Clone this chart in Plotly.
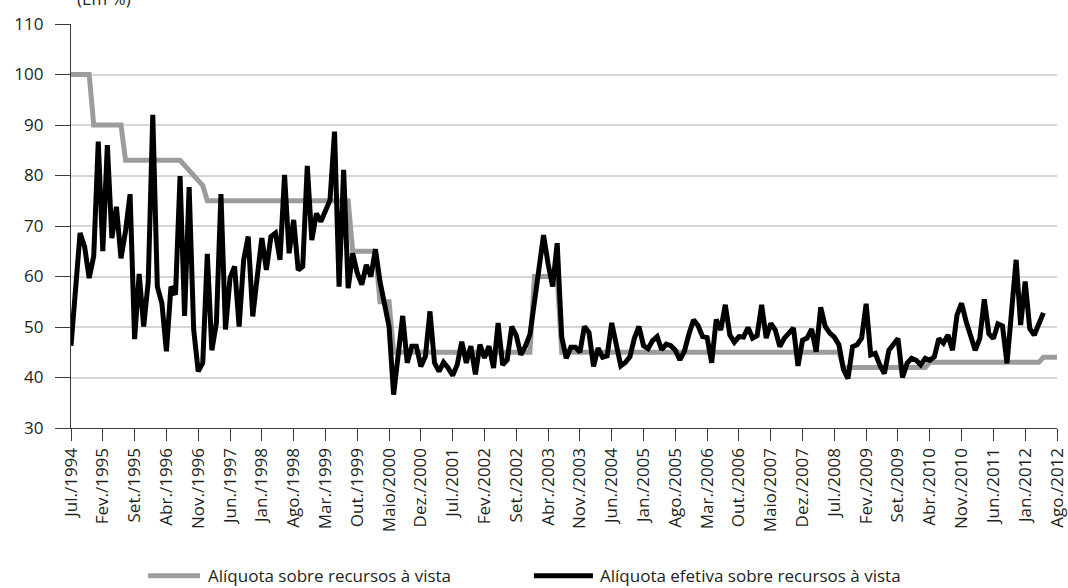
import plotly.graph_objects as go

tick_labels = ["Jul./1994", "Fev./1995", "Set./1995", "Abr./1996", "Nov./1996", "Jun./1997",
               "Jan./1998", "Ago./1998", "Mar./1999", "Out./1999", "Maio/2000", "Dez./2000",
               "Jul./2001", "Fev./2002", "Set./2002", "Abr./2003", "Nov./2003", "Jun./2004",
               "Jan./2005", "Ago./2005", "Mar./2006", "Out./2006", "Maio/2007", "Dez./2007",
               "Jul./2008", "Fev./2009", "Set./2009", "Abr./2010", "Nov./2010", "Jun./2011",
               "Jan./2012", "Ago./2012"]

# Alíquota sobre recursos à vista (monthly, Jul/1994 - Ago/2012)
aliquota = [
    100, 100, 100, 100, 100,
    90, 90, 90, 90, 90, 90, 90,
    83, 83, 83, 83, 83, 83, 83, 83, 83, 83, 83, 83, 83,
    82, 81, 80, 79, 78,
    75, 75, 75, 75, 75, 75, 75, 75, 75, 75, 75, 75, 75, 75, 75, 75,
    75, 75, 75, 75, 75, 75, 75, 75, 75, 75, 75, 75, 75, 75, 75, 75,
    65, 65, 65, 65, 65, 65,
    55, 55, 55,
    45, 45, 45, 45, 45, 45, 45, 45, 45, 45, 45, 45, 45, 45, 45, 45,
    45, 45, 45, 45, 45, 45, 45, 45, 45, 45, 45, 45, 45, 45, 45,
    60, 60, 60, 60, 60, 60,
    45, 45, 45, 45, 45, 45, 45, 45, 45, 45, 45, 45, 45, 45, 45, 45,
    45, 45, 45, 45, 45, 45, 45, 45, 45, 45, 45, 45, 45, 45, 45, 45,
    45, 45, 45, 45, 45, 45, 45, 45, 45, 45, 45, 45, 45, 45, 45, 45,
    45, 45, 45, 45, 45, 45, 45, 45, 45, 45, 45, 45, 45, 45,
    42, 42, 42, 42, 42, 42, 42, 42, 42, 42, 42, 42, 42, 42, 42, 42, 42, 42, 42,
    43, 43, 43, 43, 43, 43, 43, 43, 43, 43, 43, 43, 43, 43, 43, 43,
    43, 43, 43, 43, 43, 43, 43, 43, 43,
    44, 44, 44, 44,
]

# Alíquota efetiva sobre recursos à vista (monthly, Jul/1994 - Maio/2012)
efetiva = [
    46.3, 57.0, 68.6, 65.9, 59.7, 64.0, 86.7, 65.0, 86.0, 67.6,
    73.8, 63.6, 69.0, 76.3, 47.6, 60.5, 50.1, 59.0, 92.0, 58.0,
    54.7, 45.2, 58.0, 56.4, 79.9, 52.2, 77.7, 49.5, 41.2, 42.9,
    64.5, 45.4, 50.8, 76.3, 49.5, 59.7, 62.0, 50.1, 63.3, 67.9,
    52.1, 60.0, 67.6, 61.3, 67.9, 68.6, 63.3, 80.1, 64.6, 71.2,
    61.3, 62.0, 81.9, 67.2, 72.5, 70.9, 72.8, 75.1, 88.7, 58.0,
    81.1, 57.7, 64.6, 60.7, 58.4, 62.3, 60.0, 65.4, 59.0, 54.7,
    50.1, 36.6, 43.5, 52.2, 42.9, 46.2, 46.2, 42.2, 44.2, 53.1,
    42.9, 41.2, 43.0, 41.9, 40.4, 42.5, 47.1, 42.9, 46.2, 40.6,
    46.5, 43.9, 46.2, 41.9, 50.8, 42.5, 43.5, 50.1, 48.3, 44.5,
    46.2, 48.5, 55.0, 61.5, 68.2, 62.5, 58.0, 66.6, 48.0, 43.8,
    46.0, 46.0, 45.0, 50.1, 48.9, 42.2, 45.8, 44.0, 44.3, 50.8,
    46.8, 42.3, 43.0, 44.1, 47.8, 50.1, 46.3, 45.7, 47.3, 48.1,
    45.5, 46.6, 46.3, 45.4, 43.5, 45.2, 48.6, 51.4, 50.3, 48.1,
    47.9, 42.9, 51.5, 49.4, 54.4, 48.4, 47.0, 48.1, 48.0, 49.9,
    47.8, 48.3, 54.4, 47.8, 50.7, 49.4, 46.1, 47.8, 48.8, 49.8,
    42.3, 47.4, 47.8, 49.6, 45.1, 53.9, 50.1, 48.8, 48.0, 46.5,
    41.6, 39.8, 46.1, 46.5, 47.8, 54.6, 44.5, 44.8, 42.5, 40.8,
    45.4, 46.5, 47.7, 40.0, 42.8, 43.8, 43.4, 42.5, 43.8, 43.4,
    44.1, 47.7, 46.8, 48.4, 45.4, 52.4, 54.7, 51.1, 48.4, 45.4,
    47.7, 55.5, 48.7, 47.7, 50.6, 50.2, 42.8, 53.0, 63.3, 50.4,
    59.0, 49.7, 48.4, 50.6, 52.8,
]

names = ["Alíquota sobre recursos à vista", "Alíquota efetiva sobre recursos à vista"]
colors = ["#9a9c9e", "#000000"]

FONT = "Open Sans"
TXT = "#231f20"
FS = 17

fig = go.Figure()
fig.add_trace(go.Scatter(x=list(range(len(aliquota))), y=aliquota, mode="lines",
                         line=dict(color=colors[0], width=5), name=names[0], hoverinfo="skip"))
fig.add_trace(go.Scatter(x=list(range(len(efetiva))), y=efetiva, mode="lines",
                         line=dict(color=colors[1], width=5), name=names[1], hoverinfo="skip"))

tickvals = [7 * k for k in range(len(tick_labels))]

fig.update_layout(
    width=1068, height=588,
    margin=dict(l=71, r=11, t=24, b=160),
    paper_bgcolor="white", plot_bgcolor="white",
    showlegend=False,
    font=dict(family=FONT, size=FS, color=TXT),
    xaxis=dict(range=[0, 217], tickvals=tickvals, ticktext=tick_labels, tickangle=-90,
               showgrid=False, zeroline=False, showline=True, linecolor="#3a3a3a", linewidth=1.3,
               ticks="outside", ticklen=12, tickcolor="#3a3a3a", tickwidth=1.2,
               ticklabeloverflow="allow",
               tickfont=dict(family=FONT, size=FS, color=TXT), automargin=False),
    yaxis=dict(range=[30, 110], tickvals=list(range(30, 111, 10)),
               showgrid=True, gridcolor="#d6d6d6", gridwidth=1.5, zeroline=False,
               showline=True, linecolor="#3a3a3a", linewidth=1.3,
               ticks="outside", ticklen=15, tickcolor="#3a3a3a", tickwidth=1.2,
               ticklabelstandoff=8,
               tickfont=dict(family=FONT, size=FS, color=TXT), automargin=False),
)

# "(Em %)" label (partly cut at the top edge, as in the reference)
fig.add_annotation(text="(Em %)", xref="paper", yref="paper", x=0.004, y=1.0619,
                   xanchor="left", yanchor="middle", showarrow=False,
                   font=dict(family=FONT, size=FS, color=TXT))

# Manual legend
leg_y = -0.366
legend_items = [(0.0782, 0.1309, 0.1370), (0.4695, 0.5294, 0.5345)]
for (x0, x1, tx), nm, col in zip(legend_items, names, colors):
    fig.add_shape(type="line", xref="paper", yref="paper", x0=x0, x1=x1, y0=leg_y, y1=leg_y,
                  line=dict(color=col, width=5))
    fig.add_annotation(text=nm, xref="paper", yref="paper", x=tx, y=leg_y,
                       xanchor="left", yanchor="middle", showarrow=False,
                       font=dict(family=FONT, size=FS, color=TXT))

fig.write_html("out.html", config={"displayModeBar": False},
               post_script="document.body.style.margin='0';")
